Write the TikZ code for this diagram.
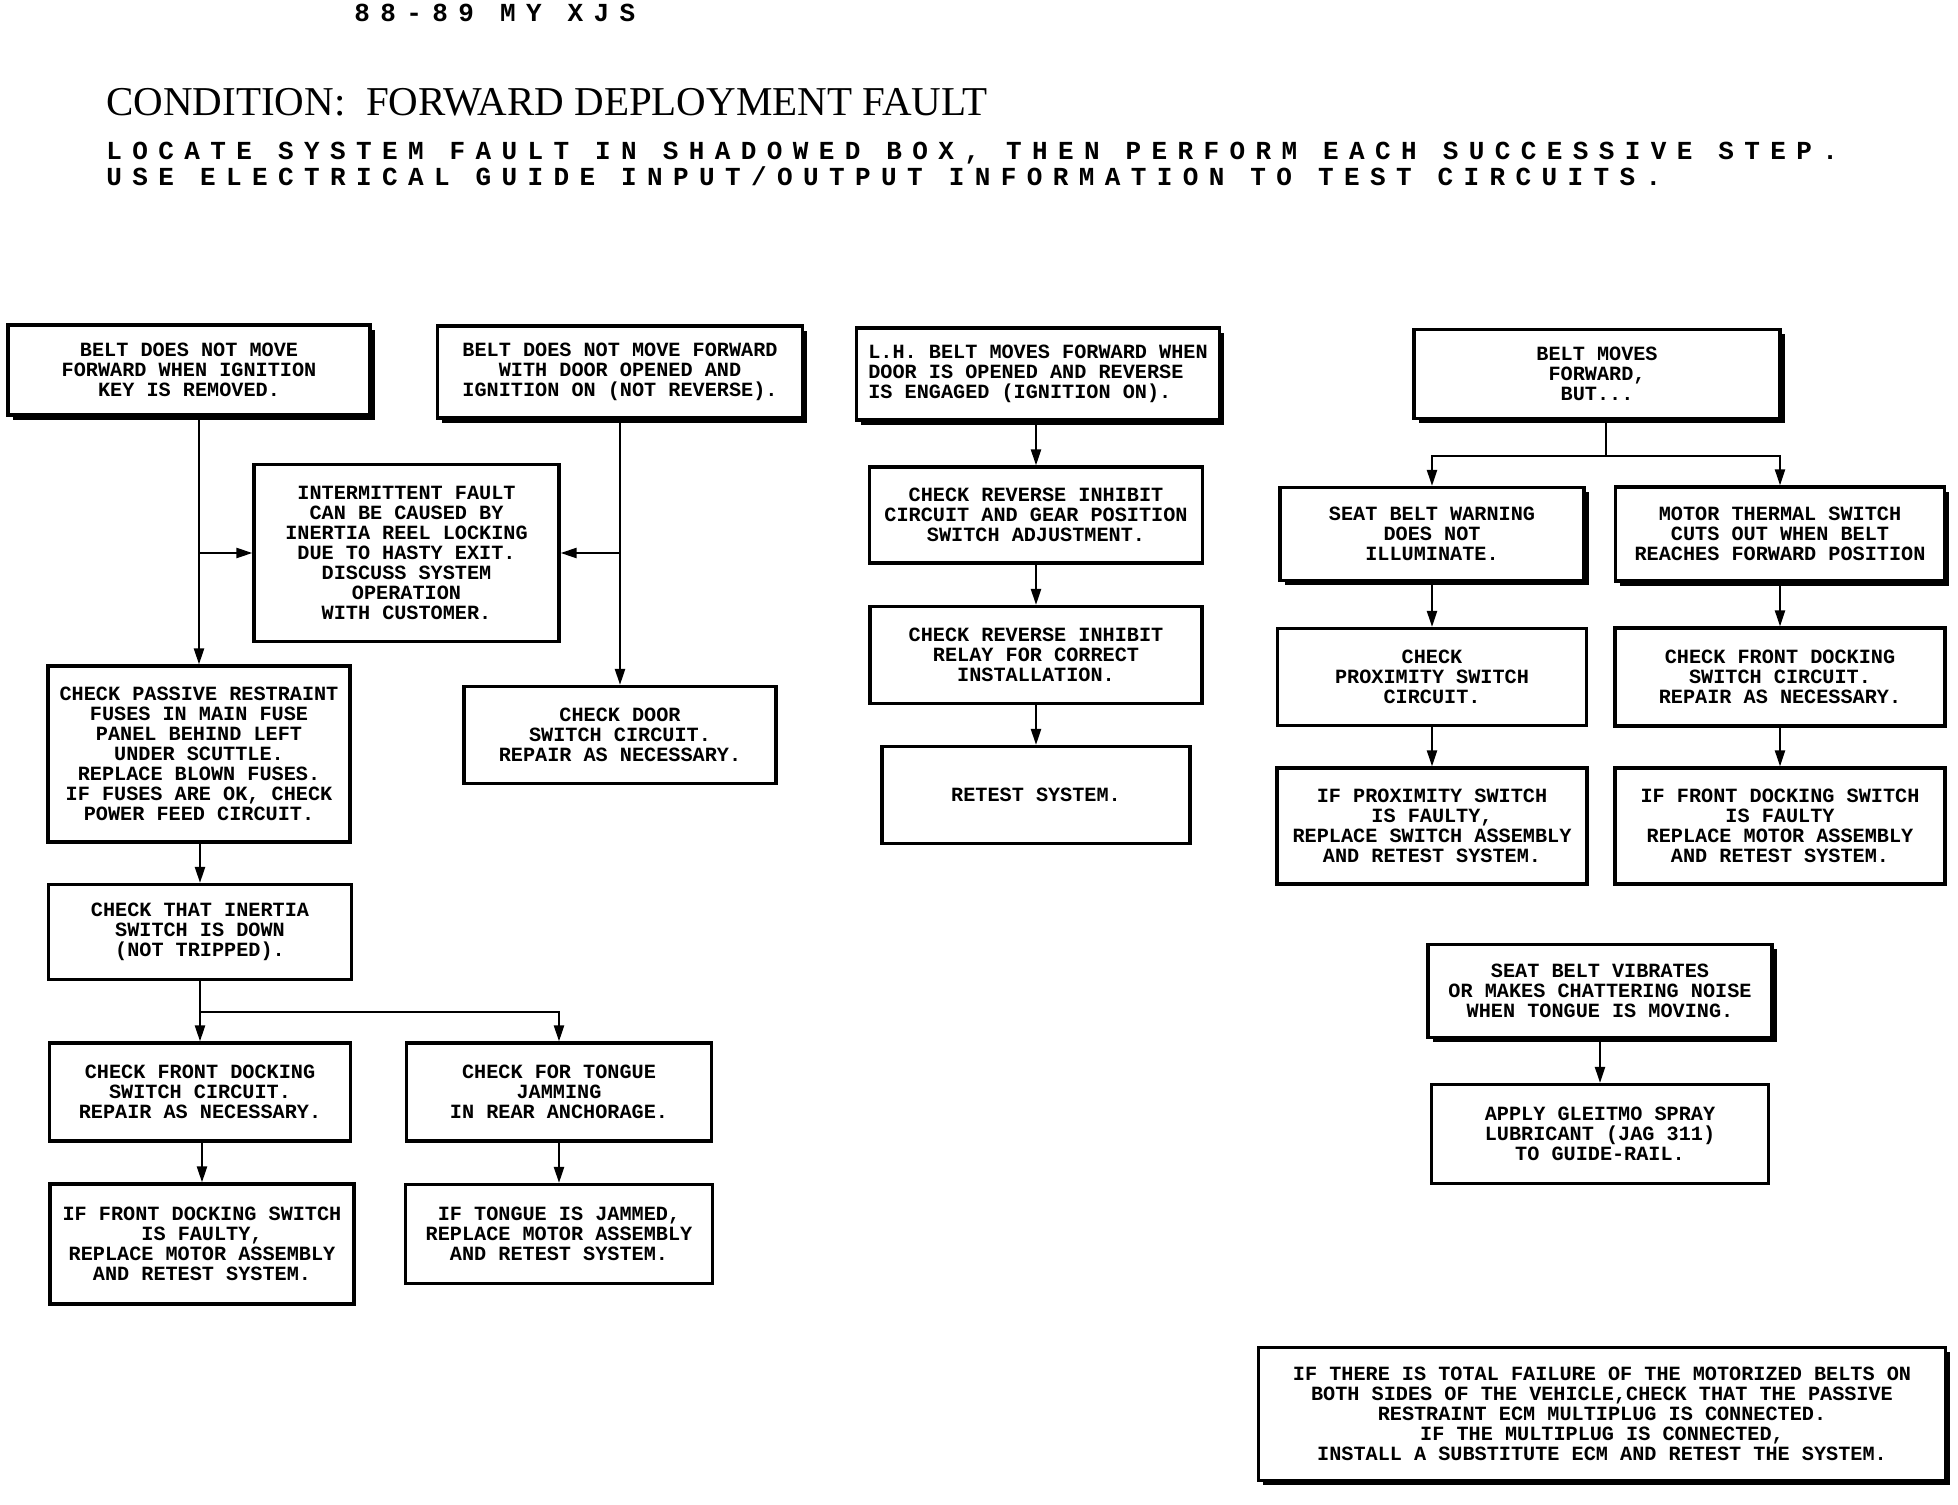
\documentclass[tikz,border=0pt]{standalone}
\usepackage{fontspec}
\setmainfont{Liberation Serif}
\newfontfamily\boxfont{Liberation Mono}
\newfontfamily\widefont[LetterSpace=40]{Liberation Mono}
\usetikzlibrary{arrows.meta, shadows}

\begin{document}
\begin{tikzpicture}[
    x=0.5pt, y=-0.5pt,
    block/.style={
        rectangle,
        draw=black,
        fill=white,
        line width=1.6pt,
        align=center,
        inner sep=2pt,
        font=\boxfont\bfseries\fontsize{10.1}{10}\selectfont
    },
    fault/.style={
        block,
        drop shadow={shadow xshift=2.3pt, shadow yshift=-2.3pt, opacity=1, fill=black}
    },
    arrow/.style={
        -{Triangle[width=5pt,length=8pt]},
        line width=1.1pt
    },
    link/.style={
        line width=1.1pt
    },
    title/.style={
        font=\fontsize{20.5}{24}\selectfont,
        anchor=west,
        inner sep=0pt
    },
    subtitle/.style={
        font=\widefont\bfseries\fontsize{13}{10.25}\selectfont,
        align=left,
        anchor=west,
        inner sep=0pt
    }
]

% Page frame
\useasboundingbox (0,0) rectangle (1958,1504);

% Title
\node[subtitle] (model) at (354,13) {88-89 MY XJS};
\node[title] (cond) at (106,102) {CONDITION:\ \ FORWARD DEPLOYMENT FAULT};
\node[subtitle] (howto) at (106,164) {LOCATE SYSTEM FAULT IN SHADOWED BOX, THEN PERFORM EACH SUCCESSIVE STEP.\\USE ELECTRICAL GUIDE INPUT/OUTPUT INFORMATION TO TEST CIRCUITS.};

% Nodes, left
\node[fault, minimum width=181pt, minimum height=45pt] (nokey) at (189,370) {BELT DOES NOT MOVE\\FORWARD WHEN IGNITION\\KEY IS REMOVED.};
\node[fault, minimum width=182.5pt, minimum height=46pt] (nodoor) at (620,372) {BELT DOES NOT MOVE FORWARD\\WITH DOOR OPENED AND\\IGNITION ON (NOT REVERSE).};
\node[block, minimum width=152.5pt, minimum height=88.5pt] (intermit) at (406.5,553) {INTERMITTENT FAULT\\CAN BE CAUSED BY\\INERTIA REEL LOCKING\\DUE TO HASTY EXIT.\\DISCUSS SYSTEM\\OPERATION\\WITH CUSTOMER.};
\node[block, minimum width=151pt, minimum height=88pt] (fuses) at (199,754) {CHECK PASSIVE RESTRAINT\\FUSES IN MAIN FUSE\\PANEL BEHIND LEFT\\UNDER SCUTTLE.\\REPLACE BLOWN FUSES.\\IF FUSES ARE OK, CHECK\\POWER FEED CIRCUIT.};
\node[block, minimum width=156pt, minimum height=48.5pt] (doorsw) at (620,735) {CHECK DOOR\\SWITCH CIRCUIT.\\REPAIR AS NECESSARY.};
\node[block, minimum width=151.5pt, minimum height=47.5pt] (inertia) at (200,932) {CHECK THAT INERTIA\\SWITCH IS DOWN\\(NOT TRIPPED).};
\node[block, minimum width=150.5pt, minimum height=49pt] (dockL) at (200,1092) {CHECK FRONT DOCKING\\SWITCH CIRCUIT.\\REPAIR AS NECESSARY.};
\node[block, minimum width=152.5pt, minimum height=49pt] (tongue) at (559,1092) {CHECK FOR TONGUE\\JAMMING\\IN REAR ANCHORAGE.};
\node[block, minimum width=152pt, minimum height=60pt] (dockfixL) at (202,1244) {IF FRONT DOCKING SWITCH\\IS FAULTY,\\REPLACE MOTOR ASSEMBLY\\AND RETEST SYSTEM.};
\node[block, minimum width=153.5pt, minimum height=49.5pt] (jammed) at (559,1234) {IF TONGUE IS JAMMED,\\REPLACE MOTOR ASSEMBLY\\AND RETEST SYSTEM.};

% Nodes, middle
\node[fault, align=left, minimum width=181.5pt, minimum height=46pt] (reverse) at (1038,374) {L.H. BELT MOVES FORWARD WHEN\\DOOR IS OPENED AND REVERSE\\IS ENGAGED (IGNITION ON).};
\node[block, minimum width=166.5pt, minimum height=48pt] (inhibit) at (1036,515) {CHECK REVERSE INHIBIT\\CIRCUIT AND GEAR POSITION\\SWITCH ADJUSTMENT.};
\node[block, minimum width=166pt, minimum height=48.5pt] (relay) at (1036,655) {CHECK REVERSE INHIBIT\\RELAY FOR CORRECT\\INSTALLATION.};
\node[block, minimum width=154pt, minimum height=48.5pt] (retest) at (1036,795) {RETEST SYSTEM.};

% Nodes, right
\node[fault, minimum width=183pt, minimum height=44.5pt] (moves) at (1597,374) {BELT MOVES\\FORWARD,\\BUT...};
\node[fault, minimum width=152pt, minimum height=46.5pt] (warning) at (1432,534) {SEAT BELT WARNING\\DOES NOT\\ILLUMINATE.};
\node[fault, minimum width=164.5pt, minimum height=47pt] (thermal) at (1780,534) {MOTOR THERMAL SWITCH\\CUTS OUT WHEN BELT\\REACHES FORWARD POSITION};
\node[block, minimum width=154.5pt, minimum height=48.5pt] (prox) at (1432,677) {CHECK\\PROXIMITY SWITCH\\CIRCUIT.};
\node[block, minimum width=165pt, minimum height=49pt] (dockR) at (1780,677) {CHECK FRONT DOCKING\\SWITCH CIRCUIT.\\REPAIR AS NECESSARY.};
\node[block, minimum width=155pt, minimum height=58pt] (proxfix) at (1432,826) {IF PROXIMITY SWITCH\\IS FAULTY,\\REPLACE SWITCH ASSEMBLY\\AND RETEST SYSTEM.};
\node[block, minimum width=165pt, minimum height=58pt] (dockfixR) at (1780,826) {IF FRONT DOCKING SWITCH\\IS FAULTY\\REPLACE MOTOR ASSEMBLY\\AND RETEST SYSTEM.};
\node[fault, minimum width=172pt, minimum height=46.5pt] (vibrate) at (1600,991) {SEAT BELT VIBRATES\\OR MAKES CHATTERING NOISE\\WHEN TONGUE IS MOVING.};
\node[block, minimum width=168.5pt, minimum height=49.5pt] (lube) at (1600,1134) {APPLY GLEITMO SPRAY\\LUBRICANT (JAG 311)\\TO GUIDE-RAIL.};
\node[fault, minimum width=343.5pt, minimum height=66.5pt] (total) at (1602,1414) {IF THERE IS TOTAL FAILURE OF THE MOTORIZED BELTS ON\\BOTH SIDES OF THE VEHICLE,CHECK THAT THE PASSIVE\\RESTRAINT ECM MULTIPLUG IS CONNECTED.\\IF THE MULTIPLUG IS CONNECTED,\\INSTALL A SUBSTITUTE ECM AND RETEST THE SYSTEM.};

% Arrows, left
\draw[arrow] (nokey.south -| fuses.north) -- (fuses.north);
\draw[arrow] (intermit.west -| fuses.north) -- (intermit.west);
\draw[arrow] (nodoor) -- (doorsw);
\draw[arrow] (intermit.east -| doorsw.north) -- (intermit.east);
\draw[arrow] (fuses.south -| inertia.north) -- (inertia.north);
\coordinate (split1) at (200,1012);
\draw[arrow] (inertia) -- (dockL);
\draw[arrow] (split1) -| (tongue.north);
\draw[arrow] (dockL.south -| dockfixL.north) -- (dockfixL.north);
\draw[arrow] (tongue) -- (jammed);

% Arrows, middle
\draw[arrow] (reverse.south -| inhibit.north) -- (inhibit.north);
\draw[arrow] (inhibit) -- (relay);
\draw[arrow] (relay) -- (retest);

% Arrows, right
\coordinate (split2) at (1606,456);
\draw[link] (moves.south -| split2) -- (split2);
\draw[arrow] (split2) -| (warning.north);
\draw[arrow] (split2) -| (thermal.north);
\draw[arrow] (warning) -- (prox);
\draw[arrow] (prox) -- (proxfix);
\draw[arrow] (thermal) -- (dockR);
\draw[arrow] (dockR.south -| dockfixR.north) -- (dockfixR.north);
\draw[arrow] (vibrate) -- (lube);

\end{tikzpicture}
\end{document}
